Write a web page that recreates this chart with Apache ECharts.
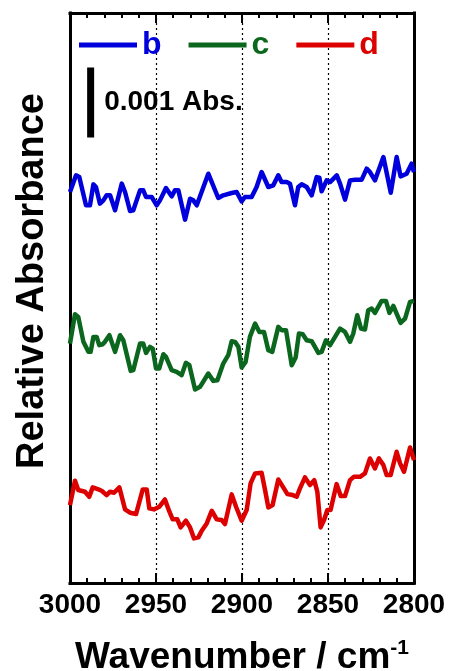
<!DOCTYPE html>
<html>
<head>
<meta charset="utf-8">
<script src="https://cdn.jsdelivr.net/npm/echarts@6/dist/echarts.min.js"></script>
<style>
  html, body { margin: 0; padding: 0; background: #fff; }
  #chart { width: 452px; height: 671px; }
</style>
</head>
<body>
<div id="chart"></div>
<script>
// Wavenumber axis (cm-1) and tick labels
const xTicks = [3000, 2950, 2900, 2850, 2800];

// Spectrum b (absorbance in units of 0.001 Abs, stacked offset)
const waveB = [3000.0, 2996.5, 2994.6, 2990.7, 2988.4, 2986.4, 2984.9, 2982.6, 2980.6, 2978.7,
  2976.7, 2973.8, 2969.9, 2968.0, 2965.1, 2963.2, 2959.3, 2957.4, 2955.8, 2952.5,
  2949.6, 2947.7, 2944.2, 2940.9, 2939.0, 2937.0, 2933.1, 2930.2, 2928.3, 2926.3,
  2919.6, 2913.8, 2910.9, 2906.0, 2903.1, 2900.2, 2898.3, 2894.4, 2891.5, 2888.6,
  2884.7, 2881.8, 2878.9, 2877.0, 2874.0, 2872.1, 2869.2, 2867.3, 2865.3, 2862.4,
  2859.5, 2856.6, 2855.0, 2853.7, 2850.8, 2848.8, 2844.9, 2843.0, 2840.1, 2837.2,
  2834.3, 2830.4, 2827.5, 2825.6, 2822.7, 2817.8, 2813.5, 2810.1, 2807.8, 2804.3,
  2801.4, 2800.0];
const absB = [5.590, 5.829, 5.804, 5.400, 5.400, 5.700, 5.662, 5.424, 5.471, 5.543,
  5.543, 5.329, 5.710, 5.590, 5.319, 5.329, 5.614, 5.614, 5.519, 5.519,
  5.400, 5.471, 5.647, 5.529, 5.614, 5.614, 5.195, 5.495, 5.471, 5.400,
  5.852, 5.505, 5.543, 5.576, 5.590, 5.457, 5.519, 5.519, 5.662, 5.876,
  5.662, 5.686, 5.829, 5.733, 5.733, 5.710, 5.400, 5.662, 5.700, 5.662,
  5.543, 5.804, 5.795, 5.600, 5.757, 5.733, 5.829, 5.710, 5.481, 5.757,
  5.767, 5.767, 5.924, 5.876, 5.757, 6.090, 5.581, 6.090, 5.814, 5.852,
  5.995, 5.876];

// Spectrum c
const waveC = [3000.0, 2997.1, 2995.2, 2992.2, 2989.3, 2988.0, 2986.4, 2984.5, 2983.0, 2981.0,
  2979.7, 2977.1, 2973.8, 2970.9, 2969.0, 2964.7, 2963.2, 2959.3, 2957.4, 2955.8,
  2953.5, 2951.9, 2950.0, 2948.1, 2945.7, 2944.2, 2940.9, 2938.0, 2935.1, 2932.6,
  2930.6, 2927.3, 2924.4, 2919.6, 2916.7, 2914.3, 2910.9, 2908.0, 2906.0, 2904.1,
  2902.1, 2900.2, 2897.9, 2895.4, 2892.4, 2889.9, 2887.2, 2884.7, 2882.4, 2878.9,
  2876.9, 2874.4, 2871.1, 2868.8, 2866.9, 2864.7, 2862.4, 2859.5, 2855.6, 2853.7,
  2851.2, 2848.8, 2845.9, 2843.0, 2840.1, 2837.2, 2835.3, 2833.0, 2830.8, 2828.5,
  2826.6, 2824.6, 2822.7, 2818.8, 2816.3, 2814.3, 2812.0, 2810.1, 2807.8, 2805.2,
  2802.3, 2800.0];
const absC = [3.424, 3.843, 3.805, 3.448, 3.305, 3.305, 3.519, 3.519, 3.400, 3.414,
  3.448, 3.543, 3.305, 3.543, 3.471, 3.033, 3.043, 3.424, 3.424, 3.290,
  3.376, 3.352, 3.067, 3.067, 3.271, 3.233, 3.043, 3.019, 2.971, 3.148,
  3.114, 2.767, 2.805, 2.995, 2.890, 2.900, 3.138, 3.257, 3.457, 3.448,
  3.376, 3.081, 3.162, 3.519, 3.710, 3.590, 3.590, 3.329, 3.305, 3.662,
  3.614, 3.614, 3.114, 3.224, 3.567, 3.557, 3.471, 3.457, 3.290, 3.305,
  3.471, 3.400, 3.519, 3.638, 3.590, 3.448, 3.567, 3.829, 3.638, 3.624,
  3.900, 3.924, 3.862, 4.033, 4.033, 3.862, 3.962, 3.852, 3.719, 3.781,
  4.019, 4.033];

// Spectrum d
const waveD = [3000.0, 2997.1, 2995.2, 2991.3, 2988.8, 2986.8, 2983.5, 2981.6, 2978.7, 2976.7,
  2974.4, 2971.3, 2968.0, 2965.1, 2961.6, 2957.7, 2955.4, 2953.9, 2951.2, 2948.1,
  2944.8, 2942.2, 2940.3, 2937.6, 2935.7, 2932.6, 2930.2, 2927.9, 2925.4, 2923.4,
  2920.5, 2917.6, 2914.7, 2911.8, 2909.9, 2906.0, 2903.3, 2900.2, 2897.3, 2895.0,
  2892.4, 2888.6, 2886.6, 2884.7, 2882.2, 2878.9, 2876.0, 2873.6, 2870.5, 2868.2,
  2866.3, 2863.4, 2860.5, 2858.0, 2856.2, 2854.3, 2852.3, 2850.4, 2848.5, 2845.0,
  2842.6, 2840.1, 2837.2, 2834.9, 2831.4, 2828.5, 2825.6, 2822.7, 2820.4, 2817.8,
  2815.9, 2813.6, 2810.1, 2808.1, 2805.8, 2802.3, 2800.0];
const absD = [1.114, 1.462, 1.329, 1.305, 1.233, 1.367, 1.338, 1.319, 1.257, 1.305,
  1.290, 1.367, 1.052, 1.005, 0.986, 1.338, 1.338, 1.067, 1.052, 1.090,
  1.195, 1.019, 0.910, 0.910, 0.795, 0.890, 0.795, 0.638, 0.652, 0.748,
  0.852, 1.033, 0.910, 0.900, 0.843, 1.267, 1.080, 0.890, 1.043, 1.424,
  1.567, 1.576, 1.329, 1.081, 1.114, 1.481, 1.367, 1.271, 1.257, 1.233,
  1.352, 1.510, 1.400, 1.471, 1.305, 0.795, 0.900, 1.043, 1.043, 1.414,
  1.243, 1.243, 1.471, 1.519, 1.519, 1.567, 1.781, 1.638, 1.781, 1.686,
  1.543, 1.543, 1.876, 1.710, 1.590, 1.938, 1.757];

// Scale bar: 0.001 Abs, expressed in the plot's 10^-3 Abs units
const scaleBarAbs = 0.001;
const scaleBarWave = 2988;
const scaleBarBase = 6.37;

const seriesNames = ['b', 'c', 'd'];
const seriesColors = ['#0000dc', '#0b661e', '#dc0000'];

const FONT = '"Liberation Sans", Arial, Helvetica, sans-serif';

function pairs(xs, ys) {
  return xs.map((x, i) => [x, ys[i]]);
}

const barTop = scaleBarBase + scaleBarAbs * 1000;

const chart = echarts.init(document.getElementById('chart'), null, { renderer: 'canvas' });

const lineSeries = [[waveB, absB], [waveC, absC], [waveD, absD]].map(([xs, ys], i) => ({
  name: seriesNames[i],
  type: 'line',
  data: pairs(xs, ys),
  showSymbol: false,
  symbol: 'none',
  animation: false,
  lineStyle: { color: seriesColors[i], width: 4.5, join: 'round' },
  itemStyle: { color: seriesColors[i] },
  z: 3
}));

const frameLine = { show: true, onZero: false, lineStyle: { color: '#000', width: 3, cap: 'square' } };

const xAxisCommon = {
  type: 'value',
  min: 2800,
  max: 3000,
  interval: 50,
  inverse: true,
  axisLine: frameLine,
  axisTick: { show: true, inside: true, length: 10, lineStyle: { color: '#000', width: 2 } },
  minorTick: { show: true, splitNumber: 5, length: 5, lineStyle: { color: '#000', width: 2 } }
};

const yAxisCommon = {
  type: 'value',
  min: 0,
  max: 8.15,
  axisLine: frameLine,
  axisTick: { show: false },
  axisLabel: { show: false },
  splitLine: { show: false }
};

chart.setOption({
  animation: false,
  backgroundColor: '#fff',
  grid: {
    left: 70, right: 38, top: 13, bottom: 88,
    outerBoundsMode: 'none',
    containLabel: false
  },
  legend: {
    data: seriesNames.map((n, i) => ({ name: n, textStyle: { color: seriesColors[i] } })),
    left: 79,
    top: 29,
    padding: 0,
    icon: 'rect',
    itemWidth: 58,
    itemHeight: 5,
    itemGap: 27,
    textStyle: { fontFamily: FONT, fontSize: 32, fontWeight: 'bold' }
  },
  xAxis: [
    Object.assign({}, xAxisCommon, {
      position: 'bottom',
      name: '{a|Wavenumber / cm}{s|-1}',
      nameLocation: 'middle',
      nameGap: 55,
      nameTextStyle: {
        rich: {
          a: { fontFamily: FONT, fontSize: 37, fontWeight: 'bold', color: '#000' },
          s: { fontFamily: FONT, fontSize: 21, fontWeight: 'bold', color: '#000', padding: [0, 0, 18, 0] }
        }
      },
      axisLabel: {
        show: true, margin: 8, color: '#000', fontFamily: FONT, fontSize: 28, fontWeight: 'bold',
        showMinLabel: true, showMaxLabel: true,
        formatter: v => (xTicks.includes(v) ? String(v) : '')
      },
      splitLine: { show: true, lineStyle: { color: '#000', width: 1.2, type: [2, 3] } }
    }),
    Object.assign({}, xAxisCommon, {
      position: 'top',
      axisLabel: { show: false },
      splitLine: { show: false }
    })
  ],
  yAxis: [
    Object.assign({}, yAxisCommon, {
      position: 'left',
      name: 'Relative Absorbance',
      nameLocation: 'middle',
      nameGap: 18,
      nameTextStyle: {
        fontFamily: FONT, fontSize: 38, fontWeight: 'bold', color: '#000',
        padding: [0, 0, 0, 34]
      }
    }),
    Object.assign({}, yAxisCommon, { position: 'right' })
  ],
  series: lineSeries.concat([
    {
      name: 'scale',
      type: 'line',
      data: [[scaleBarWave, scaleBarBase], [scaleBarWave, barTop]],
      showSymbol: false,
      symbol: 'none',
      lineStyle: { color: '#000', width: 7, cap: 'butt' },
      z: 4
    },
    {
      name: 'scaleLabel',
      type: 'scatter',
      data: [[scaleBarWave, (scaleBarBase + barTop) / 2]],
      symbolSize: 1,
      itemStyle: { color: 'transparent', opacity: 1 },
      label: {
        show: true,
        position: 'right',
        distance: 13,
        formatter: () => scaleBarAbs.toFixed(3) + ' Abs.',
        fontFamily: FONT, fontSize: 28, fontWeight: 'bold', color: '#000'
      },
      z: 4
    }
  ])
});
</script>
</body>
</html>
